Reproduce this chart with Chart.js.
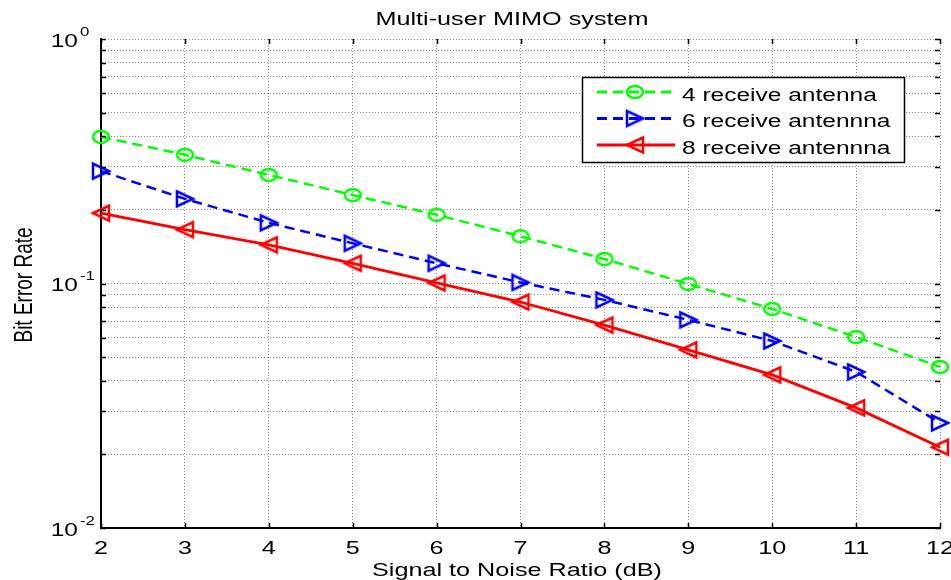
<!DOCTYPE html>
<html>
<head>
<meta charset="utf-8">
<script src="https://cdn.jsdelivr.net/npm/chart.js@4.4.1/dist/chart.umd.min.js"></script>
<style>
  html, body { margin: 0; padding: 0; background: #fff; }
  #wrap { width: 951px; height: 580px; }
</style>
</head>
<body>
<div id="wrap"><canvas id="chart" width="951" height="580"></canvas></div>
<script>
// --- data ---
const SNR   = [2, 3, 4, 5, 6, 7, 8, 9, 10, 11, 12];
const BER_4 = [0.398, 0.336, 0.278, 0.230, 0.191, 0.156, 0.126, 0.0995, 0.0787, 0.0604, 0.0456];
const BER_6 = [0.288, 0.222, 0.177, 0.146, 0.121, 0.101, 0.0857, 0.0710, 0.0582, 0.0435, 0.0269];
const BER_8 = [0.194, 0.166, 0.144, 0.121, 0.1005, 0.084, 0.0676, 0.0535, 0.0423, 0.031, 0.0214];

const SERIES_NAMES = ['4 receive antenna', '6 receive antennna', '8 receive antennna'];
const X_TICKS = [2, 3, 4, 5, 6, 7, 8, 9, 10, 11, 12];
const Y_GRID  = [0.01, 0.02, 0.03, 0.04, 0.05, 0.06, 0.07, 0.08, 0.09,
                 0.1, 0.2, 0.3, 0.4, 0.5, 0.6, 0.7, 0.8, 0.9, 1];
const Y_LABEL_VALUES = [1, 0.1, 0.01];
const Y_LABEL_EXP    = ['0', '-1', '-2'];

const TITLE  = 'Multi-user MIMO system';
const XTITLE = 'Signal to Noise Ratio (dB)';
const YTITLE = 'Bit Error Rate';

const SX = 1.4;   // the original figure is stretched sideways
const FONT = '"Liberation Sans", Arial, Helvetica, sans-serif';

// markers, drawn once on small canvases (stretched like the picture)
function marker(kind, color) {
    const c = document.createElement('canvas');
    c.width = 24; c.height = 20;
    const g = c.getContext('2d');
    g.strokeStyle = color;
    g.lineWidth = 2.5;
    g.lineJoin = 'miter';
    g.beginPath();
    if (kind === 'o') {
        g.ellipse(12, 10, 8, 6, 0, 0, Math.PI * 2);
    } else if (kind === '>') {
        g.moveTo(20, 10); g.lineTo(4, 2.5); g.lineTo(4, 17.5); g.closePath();
    } else {
        g.moveTo(4, 10); g.lineTo(20, 2.5); g.lineTo(20, 17.5); g.closePath();
    }
    g.stroke();
    return c;
}

const COLORS  = ['#00ff00', '#0000ff', '#ff0000'];
const DASHES  = [[10, 6], [10, 6], []];
const MARKERS = [marker('o', COLORS[0]), marker('>', COLORS[1]), marker('<', COLORS[2])];

function drawText(ctx, s, x, y, size, align) {
    ctx.save();
    ctx.font = size + 'px ' + FONT;
    ctx.fillStyle = '#000';
    ctx.translate(x, y);
    ctx.scale(SX, 1);
    ctx.textAlign = align;
    ctx.textBaseline = 'alphabetic';
    ctx.fillText(s, 0, 0);
    ctx.restore();
}

// ─── axes decorations, labels and legend ───────────────────────────────
const matlabLook = {
    id: 'matlabLook',
    afterDraw(chart) {
        const ctx = chart.ctx;
        const a = chart.chartArea;
        const xs = chart.scales.x, ys = chart.scales.y;

        // inner tick marks
        ctx.save();
        ctx.strokeStyle = '#000';
        ctx.lineWidth = 1.5;
        ctx.beginPath();
        X_TICKS.forEach(v => {
            const px = Math.round(xs.getPixelForValue(v)) + 0.5;
            ctx.moveTo(px, a.bottom); ctx.lineTo(px, a.bottom - 5);
            ctx.moveTo(px, a.top);    ctx.lineTo(px, a.top + 5);
        });
        Y_GRID.forEach(v => {
            const py = Math.round(ys.getPixelForValue(v)) + 0.5;
            ctx.moveTo(a.left, py);  ctx.lineTo(a.left + 5, py);
            ctx.moveTo(a.right, py); ctx.lineTo(a.right - 5, py);
        });
        ctx.stroke();
        ctx.restore();

        // x tick labels
        X_TICKS.forEach(v => drawText(ctx, String(v), xs.getPixelForValue(v), 554, 18, 'center'));

        // y tick labels 10^k
        Y_LABEL_VALUES.forEach((v, i) => {
            const py = ys.getPixelForValue(v);
            drawText(ctx, '10', 78, py + 7.5, 17.5, 'right');
            drawText(ctx, Y_LABEL_EXP[i], 80, py - 3.5, 12, 'left');
        });

        // titles
        drawText(ctx, TITLE, 512, 25, 18, 'center');
        drawText(ctx, XTITLE, 517, 576, 18, 'center');
        ctx.save();
        ctx.font = '19px ' + FONT;
        ctx.fillStyle = '#000';
        ctx.translate(32, 285);
        ctx.rotate(-Math.PI / 2);
        ctx.scale(1, SX);
        ctx.textAlign = 'center';
        ctx.fillText(YTITLE, 0, 0);
        ctx.restore();

        // legend box
        const lx = 582, ly = 77, lw = 322, lh = 85;
        ctx.save();
        ctx.fillStyle = '#fff';
        ctx.fillRect(lx, ly, lw, lh);
        ctx.strokeStyle = '#000';
        ctx.lineWidth = 1.5;
        ctx.strokeRect(lx + 0.5, ly + 0.5, lw, lh);
        SERIES_NAMES.forEach((name, i) => {
            const ry = 92 + i * 26.5;
            ctx.strokeStyle = COLORS[i];
            ctx.lineWidth = 2.8;
            ctx.setLineDash(DASHES[i]);
            ctx.beginPath();
            ctx.moveTo(597, ry); ctx.lineTo(675, ry);
            ctx.stroke();
            ctx.setLineDash([]);
            const m = MARKERS[i];
            ctx.drawImage(m, 635 - m.width / 2, ry - m.height / 2);
            drawText(ctx, name, 682, ry + 8.5, 17.5, 'left');
        });
        ctx.restore();
    }
};

const datasets = [BER_4, BER_6, BER_8].map((vals, i) => ({
    label: SERIES_NAMES[i],
    data: vals.map((v, j) => ({ x: SNR[j], y: v })),
    borderColor: COLORS[i],
    borderWidth: i === 2 ? 2.8 : 2.5,
    borderDash: DASHES[i],
    pointStyle: MARKERS[i],
    pointRadius: 8,
    pointHoverRadius: 8,
    tension: 0,
    fill: false,
    clip: false
}));

new Chart(document.getElementById('chart'), {
    type: 'line',
    data: { datasets },
    options: {
        responsive: false,
        animation: false,
        events: [],
        layout: { padding: { top: 39, right: 11, left: 0, bottom: 0 } },
        plugins: { legend: { display: false }, title: { display: false }, tooltip: { enabled: false } },
        scales: {
            x: {
                type: 'linear', min: 2, max: 12,
                afterBuildTicks: s => { s.ticks = X_TICKS.map(v => ({ value: v })); },
                afterFit: s => { s.height = 52; },
                ticks: { display: false, autoSkip: false },
                grid: { color: '#8c8c8c', lineWidth: 1, drawTicks: false },
                border: { display: true, color: '#000', width: 2, dash: [1, 2] }
            },
            y: {
                type: 'logarithmic', min: 0.01, max: 1,
                afterBuildTicks: s => { s.ticks = Y_GRID.map(v => ({ value: v })); },
                afterFit: s => { s.width = 101; },
                ticks: { display: false, autoSkip: false },
                grid: { color: '#8c8c8c', lineWidth: 1, drawTicks: false },
                border: { display: true, color: '#000', width: 2, dash: [1, 2] }
            }
        }
    },
    plugins: [matlabLook]
});
</script>
</body>
</html>
